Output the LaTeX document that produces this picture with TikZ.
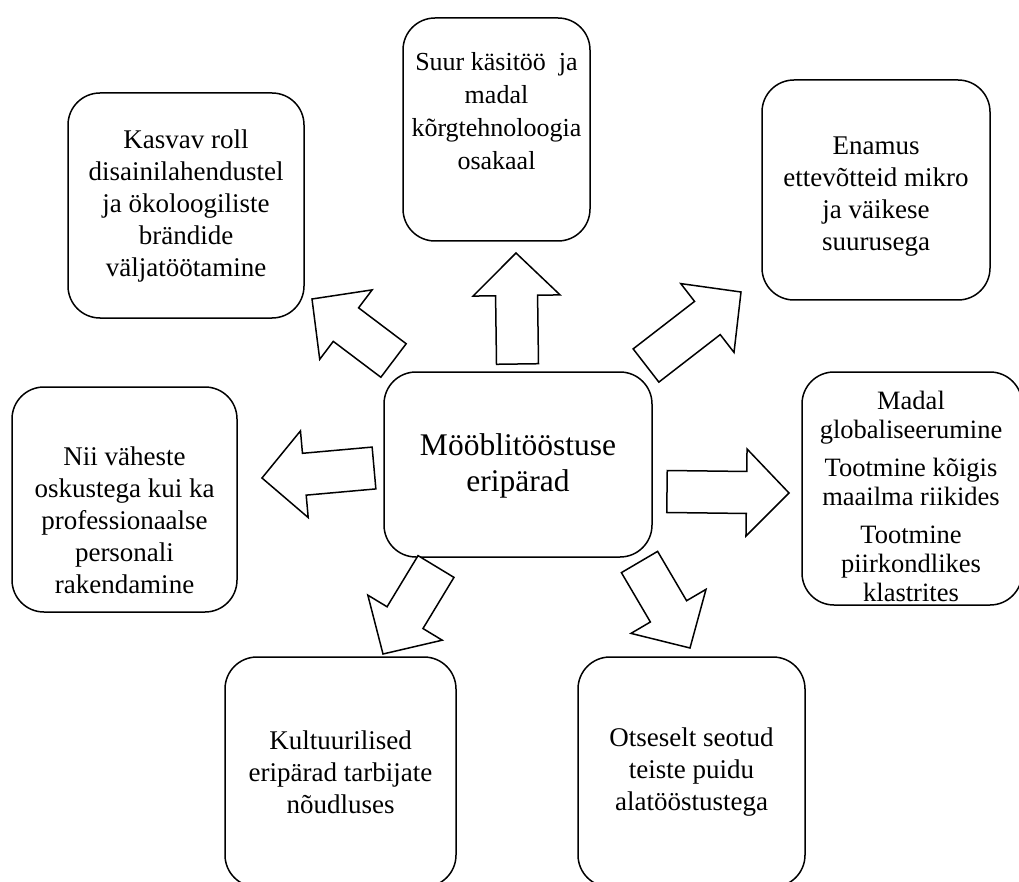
\documentclass[tikz,border=0pt]{standalone}
\usepackage{fontspec}
\setmainfont{Liberation Serif}
\usetikzlibrary{calc}

\tikzset{
  box/.style={draw, line width=1.5pt, rounded corners=32pt, inner sep=0pt},
  txt/.style={align=center, inner sep=0pt, font=\fontsize{27}{32}\selectfont},
  blk/.style={draw, line width=1.5pt, line join=miter, fill=white}
}

% block arrow from tail point #1 to tip point #2
\newcommand\blockarrow[2]{%
  \coordinate (#1-h) at ($(#2)!42.5pt!(#1)$);
  \draw[blk] ($(#1)!21pt!90:(#2)$) -- ($(#1-h)!21pt!90:(#2)$)
    -- ($(#1-h)!43.5pt!90:(#2)$) -- (#2)
    -- ($(#1-h)!43.5pt!-90:(#2)$) -- ($(#1-h)!21pt!-90:(#2)$)
    -- ($(#1)!21pt!-90:(#2)$) -- cycle;
}

\begin{document}
\begin{tikzpicture}[x=1pt, y=-1pt]
  \useasboundingbox (0,0) rectangle (1019,882);
  \clip (0,0) rectangle (1019,882);

  % central box
  \node[box, minimum width=268pt, minimum height=185pt] (mid) at (518,464.5) {};
  \node[txt, font=\fontsize{31.5}{36}\selectfont] (mid-t) at (518,466) {Mööblitööstuse\\eripärad};

  % surrounding boxes
  \node[box, minimum width=236pt, minimum height=225pt] (tl) at (186,205.5) {};
  \node[txt] (tl-t) at (186,206.5) {Kasvav roll\\disainilahendustel\\ja ökoloogiliste\\brändide\\väljatöötamine};

  \node[box, minimum width=187pt, minimum height=223pt] (top) at (496.5,129.5) {};
  \node[txt, font=\fontsize{26}{33}\selectfont] (top-t) at (496.5,111) {Suur käsitöö~ ja\\madal\\kõrgtehnoloogia\\osakaal};

  \node[box, minimum width=228pt, minimum height=220pt] (tr) at (876,190) {};
  \node[txt] (tr-t) at (876,197) {Enamus\\ettevõtteid mikro\\ja väikese\\suurusega};

  \node[box, minimum width=225pt, minimum height=225pt] (lf) at (124.5,499.5) {};
  \node[txt] (lf-t) at (124.5,520) {Nii väheste\\oskustega kui ka\\professionaalse\\personali\\rakendamine};

  \node[box, minimum width=220pt, minimum height=233pt] (rt) at (912,488.5) {};
  \node[txt, font=\fontsize{26.5}{29}\selectfont] (rt-t) at (911,496) {Madal\\globaliseerumine\\[9pt]Tootmine kõigis\\maailma riikides\\[9pt]Tootmine\\piirkondlikes\\klastrites};

  \node[box, minimum width=231pt, minimum height=230pt] (bl) at (340.5,772) {};
  \node[txt] (bl-t) at (340.5,772) {Kultuurilised\\eripärad tarbijate\\nõudluses};

  \node[box, minimum width=227pt, minimum height=230pt] (br) at (691.5,772) {};
  \node[txt] (br-t) at (691.5,772) {Otseselt seotud\\teiste puidu\\alatööstustega};

  % arrow ends
  \coordinate (au) at (517.5,364);   \coordinate (au-tip) at (516,253);
  \coordinate (ar) at (667,491.5);   \coordinate (ar-tip) at (789,493);
  \coordinate (al) at (374,468);     \coordinate (al-tip) at (262,478);
  \coordinate (atl) at (393.5,360.5);\coordinate (atl-tip) at (312,299);
  \coordinate (atr) at (646,365.5);  \coordinate (atr-tip) at (741,292);
  \coordinate (abl) at (436,566.5);  \coordinate (abl-tip) at (383,654);
  \coordinate (abr) at (639.5,562);  \coordinate (abr-tip) at (690,648);

  \blockarrow{au}{au-tip}
  \blockarrow{ar}{ar-tip}
  \blockarrow{al}{al-tip}
  \blockarrow{atl}{atl-tip}
  \blockarrow{atr}{atr-tip}
  \blockarrow{abl}{abl-tip}
  \blockarrow{abr}{abr-tip}
\end{tikzpicture}
\end{document}
